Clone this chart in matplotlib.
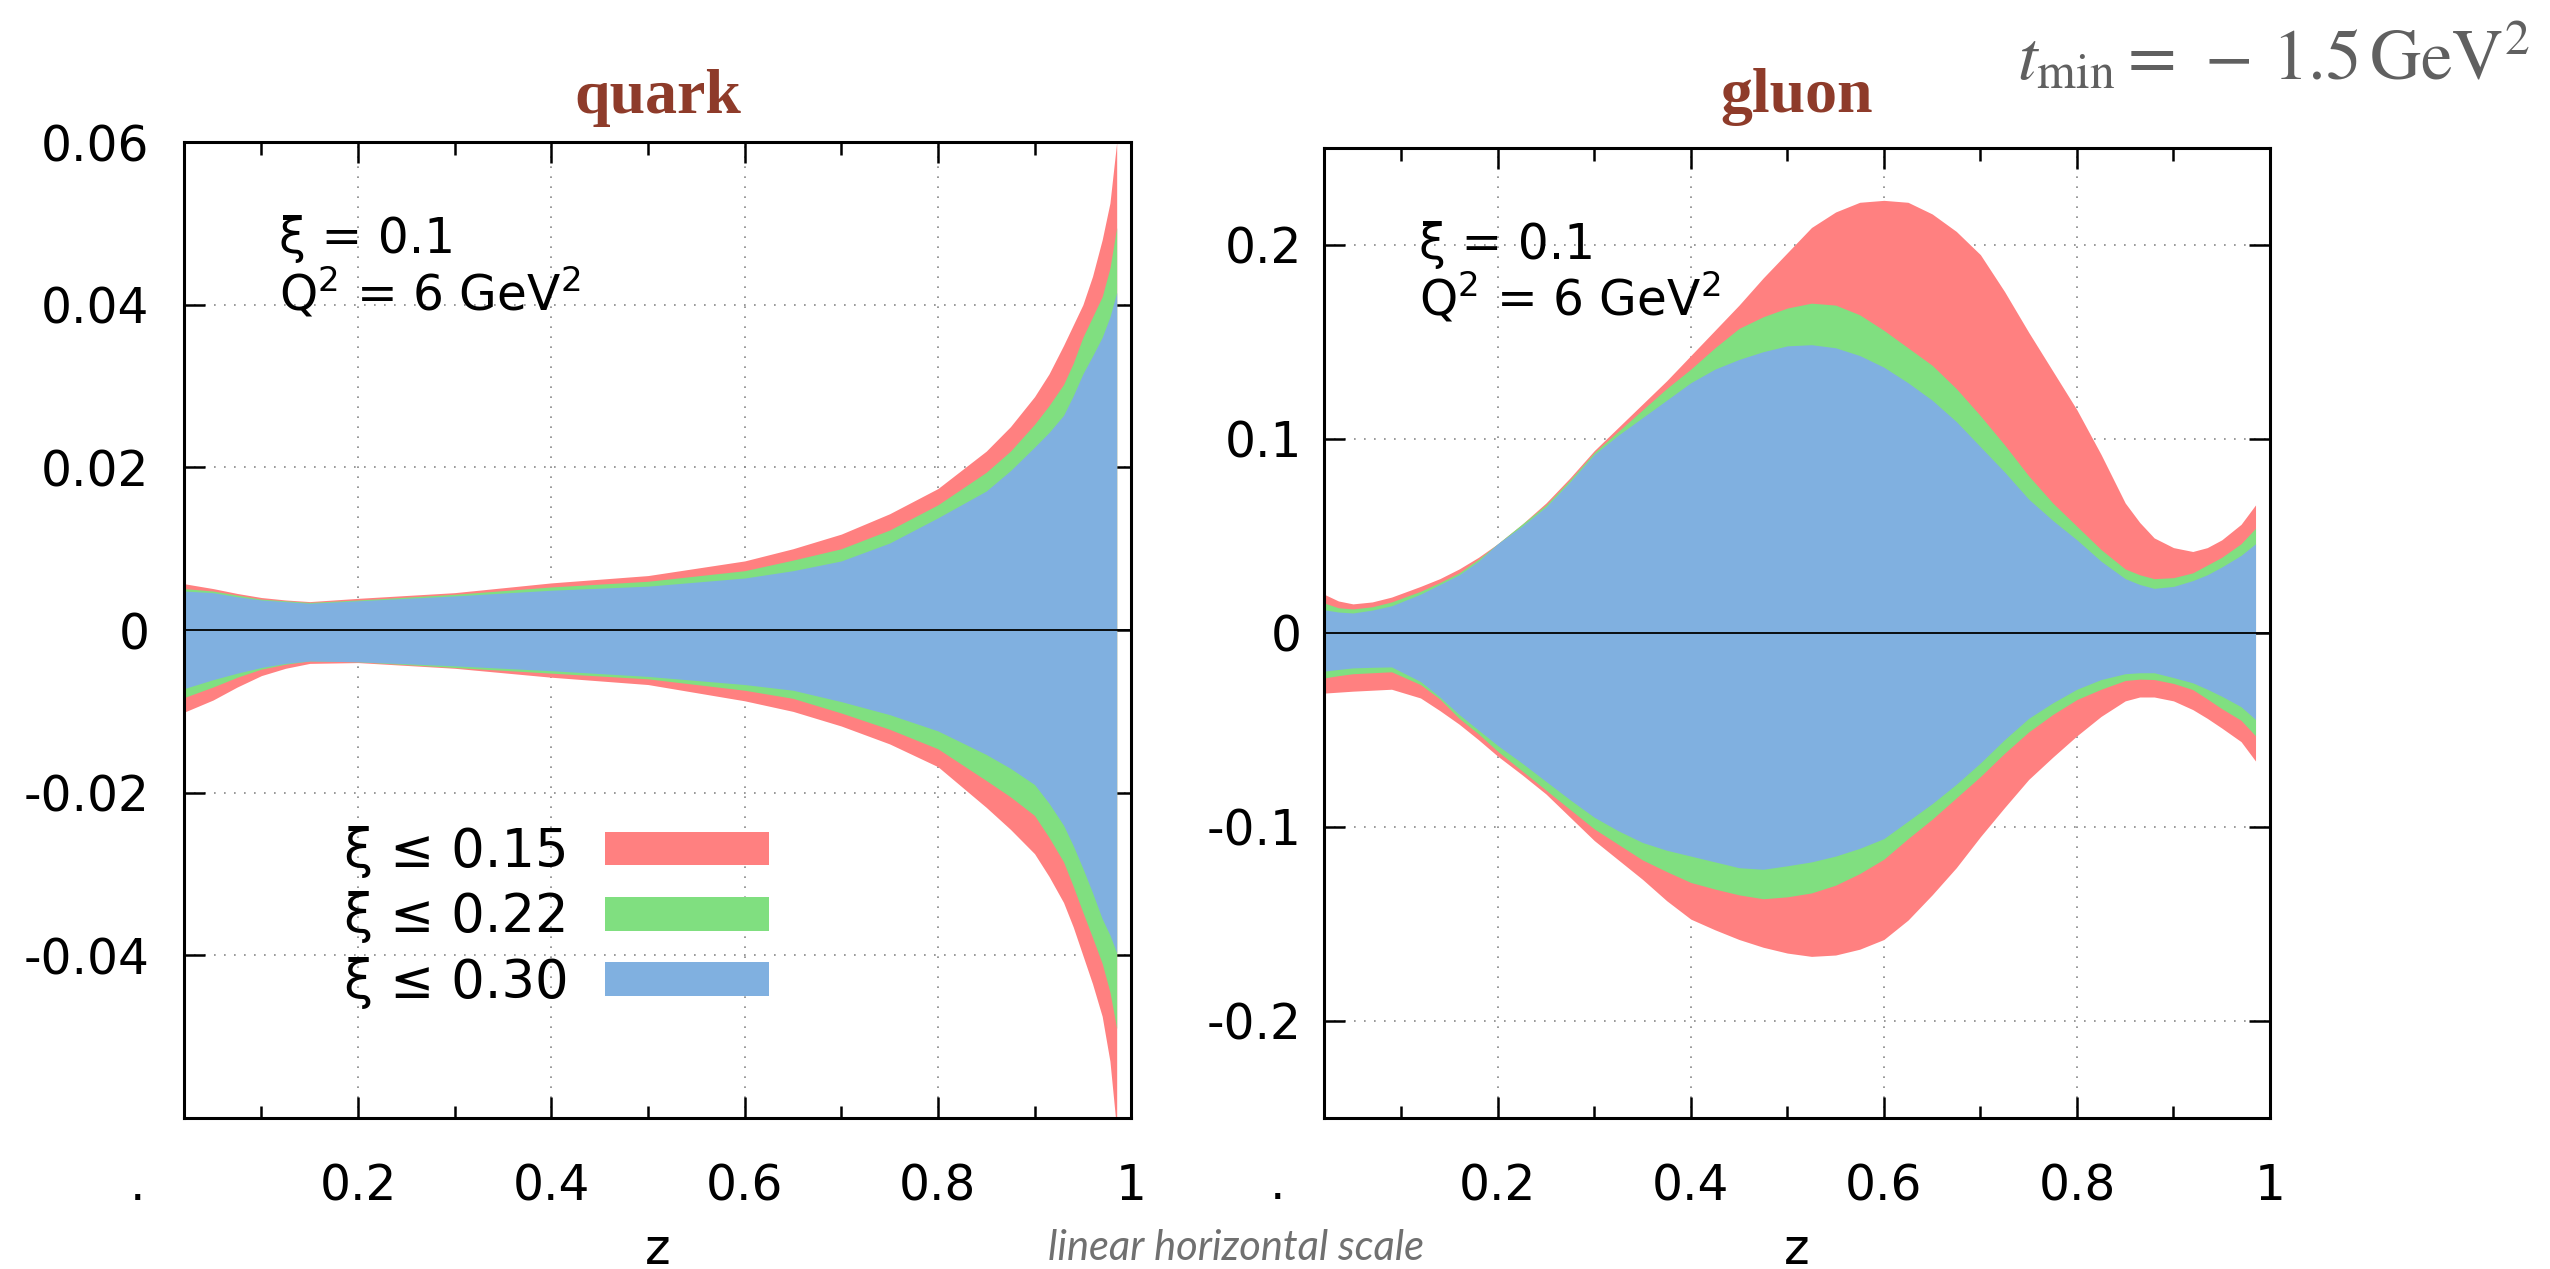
#quark and gluon uncertainty bands vs z for three xi cuts

import matplotlib
matplotlib.use('Agg')
import matplotlib.pyplot as plt
from matplotlib.patches import Patch

plt.rcParams['font.family'] = ['DejaVu Sans']
plt.rcParams['axes.unicode_minus'] = False

#band colours and legend labels
band_colors = ['#ff8080', '#80df80', '#80b0e0']
band_labels = ['ξ ≤ 0.15', 'ξ ≤ 0.22', 'ξ ≤ 0.30']

#quark panel
z_q = [0.02, 0.05, 0.075, 0.1, 0.125, 0.15, 0.2, 0.3, 0.4, 0.5, 0.6, 0.65, 0.7, 0.75,
       0.8, 0.85, 0.875, 0.9, 0.915, 0.93, 0.94, 0.95, 0.96, 0.97, 0.978, 0.985]
q_red_up = [0.0057, 0.0051, 0.0045, 0.0040, 0.0037, 0.0035, 0.0039, 0.0046, 0.0058, 0.0067,
            0.0085, 0.0100, 0.0118, 0.0143, 0.0174, 0.0220, 0.0250, 0.0287, 0.0315, 0.0350,
            0.0375, 0.0400, 0.0435, 0.0480, 0.0525, 0.0600]
q_green_up = [0.0051, 0.0048, 0.0043, 0.0038, 0.0036, 0.0034, 0.0037, 0.0044, 0.0053, 0.0060,
              0.0073, 0.0086, 0.0100, 0.0123, 0.0154, 0.0194, 0.0220, 0.0253, 0.0276, 0.0302,
              0.0328, 0.0360, 0.0385, 0.0410, 0.0445, 0.0495]
q_blue_up = [0.0048, 0.0046, 0.0041, 0.0037, 0.0035, 0.0033, 0.0036, 0.0042, 0.0049, 0.0054,
             0.0064, 0.0073, 0.0085, 0.0107, 0.0138, 0.0171, 0.0196, 0.0225, 0.0243, 0.0264,
             0.0288, 0.0315, 0.0337, 0.0360, 0.0385, 0.0415]
q_red_lo = [-0.0101, -0.0086, -0.0070, -0.0056, -0.0047, -0.0041, -0.0040, -0.0047, -0.0058, -0.0067,
            -0.0087, -0.0100, -0.0118, -0.0140, -0.0168, -0.0218, -0.0245, -0.0275, -0.0303, -0.0335,
            -0.0365, -0.0400, -0.0435, -0.0475, -0.0530, -0.0615]
q_green_lo = [-0.0083, -0.0070, -0.0058, -0.0048, -0.0042, -0.0038, -0.0039, -0.0046, -0.0053, -0.0060,
              -0.0074, -0.0084, -0.0102, -0.0122, -0.0146, -0.0185, -0.0205, -0.0228, -0.0255, -0.0285,
              -0.0315, -0.0347, -0.0378, -0.0410, -0.0445, -0.0490]
q_blue_lo = [-0.0072, -0.0061, -0.0053, -0.0046, -0.0041, -0.0038, -0.0039, -0.0044, -0.0050, -0.0057,
             -0.0067, -0.0074, -0.0088, -0.0104, -0.0124, -0.0153, -0.0170, -0.0190, -0.0213, -0.0240,
             -0.0265, -0.0293, -0.0323, -0.0355, -0.0375, -0.0397]

#gluon panel
z_g = [0.02, 0.035, 0.05, 0.07, 0.09, 0.12, 0.14, 0.16, 0.18, 0.20, 0.225, 0.25, 0.275, 0.30,
       0.325, 0.35, 0.375, 0.40, 0.425, 0.45, 0.475, 0.50, 0.525, 0.55, 0.575, 0.60, 0.625,
       0.65, 0.675, 0.70, 0.725, 0.75, 0.775, 0.80, 0.825, 0.85, 0.865, 0.88, 0.90, 0.92,
       0.935, 0.95, 0.97, 0.985]
g_red_up = [0.020, 0.0165, 0.015, 0.016, 0.0185, 0.024, 0.028, 0.033, 0.039, 0.046, 0.056, 0.067,
            0.080, 0.094, 0.106, 0.118, 0.130, 0.143, 0.156, 0.169, 0.183, 0.196, 0.209, 0.217,
            0.222, 0.223, 0.222, 0.216, 0.207, 0.195, 0.176, 0.155, 0.135, 0.115, 0.092, 0.067,
            0.057, 0.049, 0.044, 0.042, 0.044, 0.048, 0.056, 0.066]
g_green_up = [0.0155, 0.013, 0.0124, 0.0135, 0.016, 0.0215, 0.026, 0.031, 0.038, 0.046, 0.056, 0.066,
              0.079, 0.093, 0.104, 0.115, 0.126, 0.136, 0.147, 0.157, 0.163, 0.1675, 0.170, 0.169,
              0.164, 0.156, 0.147, 0.138, 0.126, 0.112, 0.097, 0.081, 0.067, 0.055, 0.043, 0.033,
              0.030, 0.028, 0.0285, 0.031, 0.035, 0.039, 0.046, 0.054]
g_blue_up = [0.012, 0.0108, 0.0103, 0.0118, 0.014, 0.020, 0.025, 0.030, 0.037, 0.046, 0.055, 0.065,
             0.078, 0.092, 0.102, 0.111, 0.120, 0.129, 0.136, 0.141, 0.145, 0.148, 0.1486, 0.147,
             0.143, 0.137, 0.129, 0.120, 0.109, 0.096, 0.083, 0.069, 0.058, 0.048, 0.037, 0.028,
             0.025, 0.023, 0.024, 0.027, 0.030, 0.034, 0.040, 0.046]
g_red_lo = [-0.031, -0.0305, -0.030, -0.0295, -0.029, -0.0335, -0.040, -0.047, -0.055, -0.0635, -0.073, -0.083,
            -0.095, -0.107, -0.117, -0.127, -0.138, -0.1475, -0.153, -0.158, -0.162, -0.165, -0.1667, -0.166,
            -0.163, -0.158, -0.148, -0.135, -0.121, -0.105, -0.090, -0.0755, -0.064, -0.053, -0.043, -0.035,
            -0.033, -0.033, -0.035, -0.0395, -0.044, -0.049, -0.056, -0.066]
g_green_lo = [-0.0232, -0.022, -0.021, -0.0205, -0.020, -0.0266, -0.034, -0.044, -0.052, -0.061, -0.071, -0.081,
              -0.091, -0.101, -0.109, -0.117, -0.123, -0.1286, -0.132, -0.135, -0.137, -0.136, -0.134, -0.130,
              -0.124, -0.1166, -0.106, -0.096, -0.085, -0.074, -0.062, -0.051, -0.042, -0.0343, -0.029, -0.0245,
              -0.0238, -0.024, -0.026, -0.0292, -0.034, -0.039, -0.045, -0.053]
g_blue_lo = [-0.0197, -0.0188, -0.018, -0.0177, -0.0175, -0.025, -0.033, -0.042, -0.050, -0.058, -0.067, -0.0765,
             -0.086, -0.095, -0.102, -0.108, -0.112, -0.115, -0.118, -0.121, -0.1218, -0.120, -0.118, -0.115,
             -0.111, -0.106, -0.097, -0.088, -0.078, -0.067, -0.055, -0.044, -0.036, -0.029, -0.024, -0.021,
             -0.0205, -0.0205, -0.023, -0.0257, -0.029, -0.0326, -0.038, -0.0446]

#ticks
x_ticks = [0.2, 0.4, 0.6, 0.8, 1.0]
x_ticklabels = ['0.2', '0.4', '0.6', '0.8', '1']
x_minor = [0.1, 0.3, 0.5, 0.7, 0.9]
q_yticks = [-0.04, -0.02, 0, 0.02, 0.04, 0.06]
q_yticklabels = ['-0.04', '-0.02', '0', '0.02', '0.04', '0.06']
g_yticks = [-0.2, -0.1, 0, 0.1, 0.2]
g_yticklabels = ['-0.2', '-0.1', '0', '0.1', '0.2']

fig = plt.figure(figsize=(25.5, 12.69), dpi=100)
ax_q = fig.add_axes([0.0722, 0.119, 0.3714, 0.769])
ax_g = fig.add_axes([0.5192, 0.119, 0.3710, 0.7644])

title_color = '#8e3b2a'
fs = 35

def setup(ax, z, ups, los, ylim, yticks, yticklabels, title, ypad, tpad):
    for up, lo, c in zip(ups, los, band_colors):
        ax.fill_between(z, lo, up, color=c, lw=0, zorder=1)
    ax.axhline(0, color='black', lw=1.3, zorder=3)
    ax.set_xlim(0.02, 1.0)
    ax.set_ylim(*ylim)
    ax.set_xticks(x_ticks)
    ax.set_xticklabels(x_ticklabels)
    ax.set_xticks(x_minor, minor=True)
    ax.set_yticks(yticks)
    ax.set_yticklabels(yticklabels)
    ax.set_axisbelow(True)
    ax.grid(True, which='major', color='#888888', lw=1.2, ls=(0, (1, 5)))
    ax.tick_params(which='both', direction='in', top=True, right=True,
                   labelsize=fs, width=1.8, color='black')
    ax.tick_params(which='major', length=15)
    ax.tick_params(which='minor', length=9)
    ax.tick_params(axis='x', which='major', pad=32)
    ax.tick_params(axis='y', pad=ypad)
    for s in ax.spines.values():
        s.set_linewidth(2.2)
    ax.set_xlabel('z', fontsize=fs, labelpad=11)
    ax.set_title(title, fontsize=46, color=title_color, family='Liberation Serif',
                 fontweight='bold', pad=tpad)
    ax.text(0.10, 0.886, 'ξ = 0.1', transform=ax.transAxes, fontsize=fs, va='baseline')
    ax.text(0.10, 0.827, r'Q$^2$ = 6 GeV$^2$', transform=ax.transAxes, fontsize=fs, va='baseline')
    ax.text(-0.049, -0.084, '.', transform=ax.transAxes, fontsize=fs, va='baseline', ha='center')

setup(ax_q, z_q, [q_red_up, q_green_up, q_blue_up], [q_red_lo, q_green_lo, q_blue_lo],
      (-0.06, 0.06), q_yticks, q_yticklabels, 'quark', 25, 21)
setup(ax_g, z_g, [g_red_up, g_green_up, g_blue_up], [g_red_lo, g_green_lo, g_blue_lo],
      (-0.25, 0.25), g_yticks, g_yticklabels, 'gluon', 16, 26)

handles = [Patch(color=c, lw=0) for c in band_colors]
ax_q.legend(handles, band_labels, loc='upper right', bbox_to_anchor=(0.3016, 0.349),
            bbox_transform=fig.transFigure, frameon=False, fontsize=38,
            markerfirst=False, handlelength=3.1, handleheight=0.61,
            handletextpad=0.7, labelspacing=0.25, borderpad=0, borderaxespad=0)

fig.text(0.992, 0.937, r'$t_{\rm min} = \,-\,1.5\,{\rm GeV}^2$', ha='right', va='baseline',
         fontsize=51, color='#606060', math_fontfamily='stix')
fig.text(0.411, 0.0071, 'linear horizontal scale', ha='left', va='baseline',
         fontsize=30, color='#707070', family='Lato', style='italic')

fig.savefig('out.png', dpi=100)
